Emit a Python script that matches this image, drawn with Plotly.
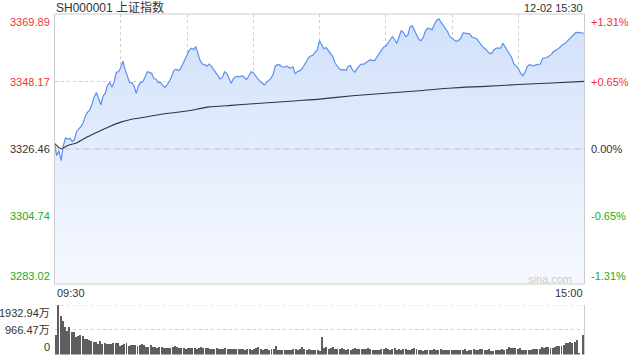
import plotly.graph_objects as go

# ---------------- data ----------------
title_text = "SH000001 上证指数"
date_text = "12-02 15:30"
time_labels = ["09:30", "15:00"]
prev_close = 3326.46

price_ticks = [3283.02, 3304.74, 3326.46, 3348.17, 3369.89]
pct_labels = ["-1.31%", "-0.65%", "0.00%", "+0.65%", "+1.31%"]
vol_ticks = [0, 966.47, 1932.94]
vol_labels = ["0", "966.47万", "1932.94万"]

# minute index 0..240 (09:30-11:30, 13:00-15:00)
price = [
    3328.3, 3324.3, 3326.0, 3322.7, 3327.5, 3330.0, 3329.6, 3329.9, 3328.9, 3329.4,
    3332.1, 3332.8, 3333.7, 3334.9, 3337.1, 3338.3, 3339.0, 3340.9, 3343.3, 3344.6,
    3342.5, 3340.7, 3343.5, 3344.4, 3346.9, 3347.9, 3346.3, 3347.9, 3351.2, 3351.3,
    3352.7, 3354.7, 3351.9, 3349.9, 3347.9, 3347.8, 3346.8, 3344.4, 3346.7, 3347.9,
    3348.1, 3349.5, 3351.3, 3351.1, 3350.8, 3349.1, 3348.9, 3347.8, 3347.9, 3346.9,
    3346.3, 3347.2, 3348.2, 3349.7, 3351.7, 3352.1, 3351.7, 3352.2, 3354.0, 3355.2,
    3356.6, 3358.3, 3358.9, 3358.5, 3359.4, 3356.8, 3354.8, 3353.8, 3353.6, 3353.1,
    3353.8, 3353.1, 3352.1, 3350.9, 3349.7, 3349.0, 3349.4, 3351.3, 3350.8, 3349.3,
    3347.6, 3349.0, 3349.7, 3349.8, 3349.7, 3350.0, 3349.3, 3348.8, 3350.0, 3351.3,
    3351.0, 3349.9, 3349.1, 3348.3, 3347.6, 3347.1, 3347.8, 3348.4, 3349.2, 3350.4,
    3353.2, 3353.6, 3353.5, 3352.9, 3352.7, 3353.2, 3352.7, 3352.5, 3352.9, 3350.6,
    3351.4, 3351.6, 3352.2, 3353.3, 3354.4, 3355.8, 3356.4, 3356.6, 3357.6, 3358.3,
    3361.3, 3360.0, 3358.7, 3359.1, 3358.1, 3357.1, 3356.2, 3354.2, 3353.1, 3352.2,
    3351.9, 3352.0, 3351.7, 3353.1, 3353.3, 3351.8, 3351.2, 3352.3, 3353.3, 3353.8,
    3353.7, 3354.2, 3354.7, 3355.2, 3354.9, 3354.9, 3356.0, 3357.2, 3358.2, 3359.2,
    3359.5, 3360.7, 3361.6, 3362.6, 3361.7, 3360.4, 3362.4, 3364.5, 3364.0, 3362.6,
    3363.1, 3365.8, 3366.1, 3364.5, 3362.9, 3361.7, 3361.3, 3362.4, 3364.5, 3365.3,
    3365.1, 3364.8, 3366.5, 3367.8, 3368.3, 3367.2, 3366.2, 3365.4, 3364.2, 3362.6,
    3362.2, 3361.5, 3361.1, 3361.4, 3362.2, 3363.8, 3363.7, 3363.5, 3363.5, 3362.5,
    3362.2, 3362.0, 3361.1, 3360.0, 3359.3, 3358.7, 3357.9, 3357.2, 3357.2, 3358.3,
    3358.9, 3358.9, 3358.9, 3360.5, 3359.4, 3358.1, 3357.0, 3355.9, 3353.8, 3353.1,
    3352.4, 3350.9, 3350.1, 3351.0, 3352.9, 3353.6, 3353.3, 3353.2, 3353.5, 3353.6,
    3353.8, 3355.6, 3355.8, 3355.9, 3356.4, 3356.9, 3357.8, 3358.1, 3358.6, 3359.3,
    3360.0, 3360.3, 3361.0, 3361.8, 3362.7, 3363.1, 3363.9, 3364.0, 3363.9, 3363.8, 3363.7,
]

avg_minutes = [0, 3, 6, 10, 15, 20, 25, 30, 35, 40, 50, 60, 70, 80, 90, 100, 110, 120,
               135, 150, 165, 180, 195, 210, 225, 240]
avg_values = [3328.3, 3326.5, 3327.6, 3328.4, 3330.4, 3332.1, 3333.7, 3335.1, 3336.0,
              3336.6, 3337.8, 3338.7, 3340.0, 3340.5, 3341.0, 3341.5, 3342.0, 3342.5,
              3343.6, 3344.4, 3345.2, 3346.1, 3346.6, 3347.2, 3347.7, 3348.2]

# volume, 万
volume = [
    755, 1932.94, 1497, 1302, 1068, 937, 1068, 872, 885, 690,
    716, 755, 716, 612, 612, 547, 521, 495, 482, 417,
    521, 417, 456, 417, 391, 417, 456, 430, 456, 326,
    365, 391, 430, 326, 365, 352, 352, 326, 352, 391,
    365, 286, 286, 352, 300, 286, 260, 300, 286, 273,
    260, 273, 260, 300, 313, 286, 260, 260, 247, 234,
    260, 247, 260, 247, 234, 260, 286, 273, 260, 273,
    221, 234, 221, 247, 234, 208, 234, 260, 234, 221,
    208, 221, 221, 234, 208, 221, 195, 208, 221, 195,
    208, 247, 286, 208, 195, 221, 208, 195, 221, 208,
    325, 182, 182, 195, 182, 169, 195, 182, 221, 234,
    195, 221, 300, 208, 182, 221, 182, 169, 195, 182,
    156, 690, 273, 300, 221, 247, 286, 234, 221, 234,
    273, 208, 195, 208, 182, 221, 260, 221, 208, 234,
    208, 234, 247, 221, 195, 195, 182, 195, 221, 208,
    247, 208, 195, 234, 247, 169, 208, 195, 208, 221,
    182, 195, 208, 247, 221, 195, 182, 156, 195, 195,
    195, 195, 221, 195, 169, 234, 195, 195, 195, 195,
    182, 195, 182, 182, 169, 195, 208, 156, 169, 182,
    221, 195, 182, 234, 221, 195, 182, 208, 156, 156,
    169, 182, 195, 208, 182, 234, 286, 260, 260, 260,
    234, 260, 195, 195, 195, 195, 195, 221, 221, 221,
    221, 286, 260, 286, 286, 273, 273, 299, 313, 338,
    338, 390, 430, 456, 470, 456, 495, 560, 30, 0, 781,
]

minutes = list(range(len(price)))

# ---------------- style ----------------
W, H = 640, 360
FONT = "Liberation Sans, Arial, Noto Sans CJK SC, sans-serif"
RED = "#f03434"
GREEN = "#22aa22"
DARK = "#333333"
GRID = "#cfcfcf"

def px(xp):
    return xp / W

def py(yp):
    return 1 - yp / H

xdom = [px(54.5), px(584.5)]
ydom_main = [py(284), py(14)]
ydom_vol = [py(354.5), py(305)]

fig = go.Figure()

fig.add_trace(go.Scatter(
    x=minutes, y=price, mode="lines",
    line=dict(color="#5b8ff2", width=1.2),
    fill="tozeroy",
    fillgradient=dict(type="vertical",
                      colorscale=[[0, "rgb(246,249,255)"], [1, "rgb(208,224,250)"]],
                      start=price_ticks[0], stop=price_ticks[-1]),
    hoverinfo="skip", xaxis="x", yaxis="y"))

fig.add_trace(go.Scatter(
    x=avg_minutes, y=avg_values, mode="lines",
    line=dict(color="#2f3540", width=1.1, shape="spline", smoothing=0.6),
    hoverinfo="skip", xaxis="x", yaxis="y"))

fig.add_trace(go.Bar(
    x=minutes, y=volume, width=0.45, marker=dict(color="#5e5e5e", line=dict(width=0)),
    hoverinfo="skip", xaxis="x2", yaxis="y2"))

fig.update_layout(
    width=W, height=H, margin=dict(l=0, r=0, t=0, b=0),
    paper_bgcolor="white", plot_bgcolor="rgba(0,0,0,0)",
    showlegend=False, font=dict(family=FONT, size=11, color=DARK),
    bargap=0,
    xaxis=dict(domain=xdom, range=[0, 240], tickvals=list(range(0, 241, 30)),
               showticklabels=False, showgrid=True, gridcolor=GRID, griddash="dot",
               gridwidth=1, zeroline=False, showline=False, ticks="", fixedrange=True,
               anchor="y"),
    yaxis=dict(domain=ydom_main, range=[price_ticks[0], price_ticks[-1]],
               tickvals=[price_ticks[1], price_ticks[3]], showticklabels=False,
               showgrid=True, gridcolor=GRID, griddash="dot", gridwidth=1,
               zeroline=False, showline=False, ticks="", fixedrange=True, anchor="x"),
    xaxis2=dict(domain=xdom, range=[-0.55, 240.7], showticklabels=False, showgrid=False,
                zeroline=False, showline=False, ticks="", fixedrange=True, anchor="y2"),
    yaxis2=dict(domain=ydom_vol, range=[0, vol_ticks[-1]], tickvals=[vol_ticks[1]],
                showticklabels=False, showgrid=True, gridcolor=GRID, griddash="dot",
                gridwidth=1, zeroline=False, showline=False, ticks="", fixedrange=True,
                anchor="x2"),
)

shapes = [
    # previous close line
    dict(type="line", xref="x domain", yref="y", x0=0, x1=1, y0=prev_close, y1=prev_close,
         line=dict(color="#bdbdbd", width=1, dash="5px,2px,1px,2px")),
    # main border
    dict(type="rect", xref="x domain", yref="y domain", x0=0, x1=1, y0=0, y1=1,
         line=dict(color="#cccccc", width=1), fillcolor="rgba(0,0,0,0)"),
    # volume top dotted line
    dict(type="line", xref="x2 domain", yref="y2", x0=0, x1=1, y0=vol_ticks[-1], y1=vol_ticks[-1],
         line=dict(color=GRID, width=1, dash="dot")),
    # volume right border
    dict(type="line", xref="x2 domain", yref="y2 domain", x0=1, x1=1, y0=0, y1=1,
         line=dict(color="#cccccc", width=1)),
]
fig.update_layout(shapes=shapes)

ann = []
# title and date
ann.append(dict(text=title_text, x=px(54), y=py(7.5), xref="paper", yref="paper",
                xanchor="left", yanchor="middle", showarrow=False,
                font=dict(size=12, color=DARK)))
ann.append(dict(text=date_text, x=px(585), y=py(7.5), xref="paper", yref="paper",
                xanchor="right", yanchor="middle", showarrow=False,
                font=dict(size=11, color=DARK)))

price_colors = [GREEN, GREEN, DARK, RED, RED]
for i, (v, lab, c) in enumerate(zip(price_ticks, pct_labels, price_colors)):
    ya = "bottom" if i == 0 else ("top" if i == len(price_ticks) - 1 else "middle")
    ann.append(dict(text=f"{v:.2f}", x=px(52), y=v, xref="paper", yref="y",
                    xanchor="right", yanchor=ya, showarrow=False, font=dict(size=11, color=c)))
    ann.append(dict(text=lab, x=px(589), y=v, xref="paper", yref="y",
                    xanchor="left", yanchor=ya, showarrow=False, font=dict(size=11, color=c)))

for i, (v, lab) in enumerate(zip(vol_ticks, vol_labels)):
    ya = "bottom" if i == 0 else ("top" if i == len(vol_ticks) - 1 else "middle")
    ann.append(dict(text=lab, x=px(52), y=v, xref="paper", yref="y2",
                    xanchor="right", yanchor=ya, showarrow=False, font=dict(size=11, color=DARK)))

ann.append(dict(text=time_labels[0], x=0, y=py(293), xref="x", yref="paper",
                xanchor="left", yanchor="middle", showarrow=False, font=dict(size=11, color=DARK)))
ann.append(dict(text=time_labels[1], x=240, y=py(293), xref="x", yref="paper",
                xanchor="right", yanchor="middle", showarrow=False, font=dict(size=11, color=DARK)))
ann.append(dict(text="sina.com", x=px(574), y=py(279), xref="paper", yref="paper",
                xanchor="right", yanchor="middle", showarrow=False, font=dict(size=11, color="#cccccc")))
fig.update_layout(annotations=ann)

fig.write_html("out.html", config={"displayModeBar": False},
               post_script="document.body.style.margin='0';document.body.style.overflow='hidden';")
